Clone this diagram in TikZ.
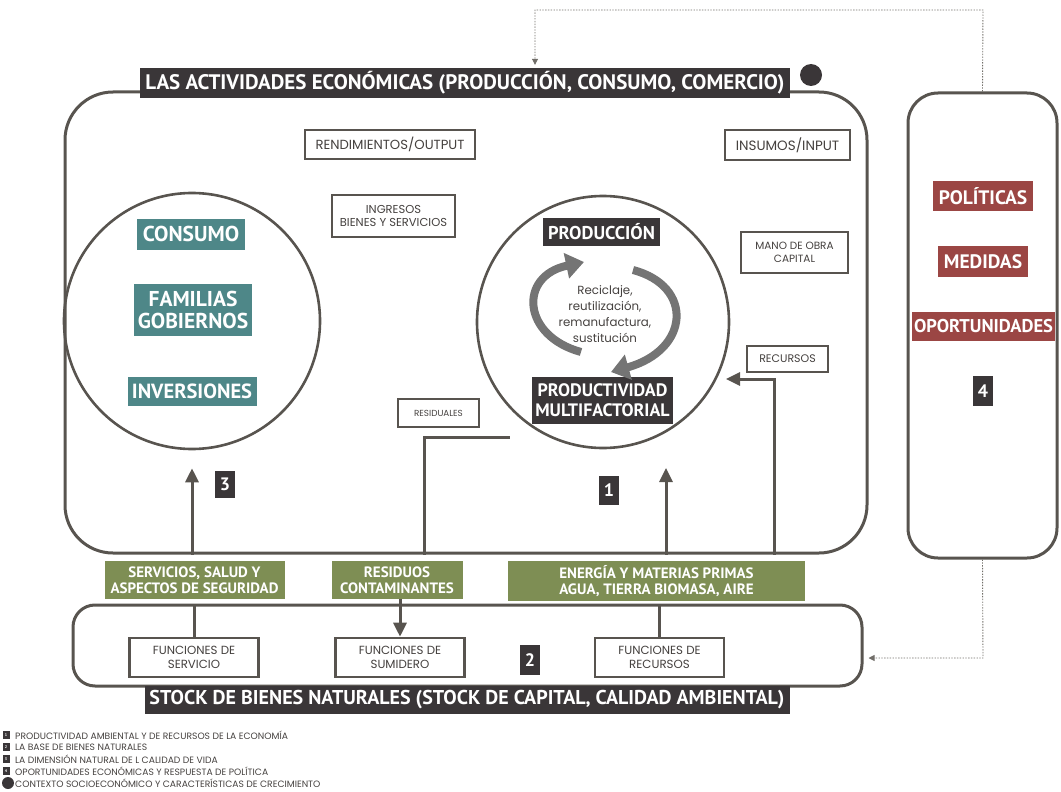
\documentclass[tikz,border=0pt]{standalone}
\usepackage{fontspec}
\setmainfont{PT Sans}
\newfontfamily\popp{Poppins}
\usetikzlibrary{arrows.meta}
\definecolor{darkbar}{HTML}{3A3638}
\definecolor{tealc}{HTML}{4E8788}
\definecolor{greenc}{HTML}{7E8E54}
\definecolor{redc}{HTML}{9B4644}
\definecolor{linec}{HTML}{58544F}
\definecolor{recyc}{HTML}{747474}
\definecolor{txtc}{HTML}{45413F}
\begin{document}
\begin{tikzpicture}[x=1pt,y=-1pt,
  frame/.style={draw=linec, line width=3pt, inner sep=0pt},
  wbox/.style={draw=linec, line width=2.6pt, fill=white, text=txtc, align=center, inner sep=0pt, font=\popp\fontsize{11.5}{13.5}\selectfont},
  tealbox/.style={fill=tealc, text=white, align=center, inner sep=0pt, font=\bfseries\fontsize{21.5}{22}\selectfont},
  darkbox/.style={fill=darkbar, text=white, align=center, inner sep=0pt, font=\bfseries\fontsize{18.5}{19}\selectfont},
  redbox/.style={fill=redc, text=white, align=center, inner sep=0pt, font=\bfseries\fontsize{19.5}{20}\selectfont},
  greenbox/.style={fill=greenc, text=white, align=center, inner sep=0pt, font=\bfseries\fontsize{15}{16}\selectfont},
  numbox/.style={fill=darkbar, text=white, inner sep=0pt, minimum width=20pt, minimum height=29pt, font=\bfseries\fontsize{18}{19}\selectfont},
  titlebar/.style={fill=darkbar, text=white, inner sep=0pt, font=\bfseries\fontsize{21}{22}\selectfont},
  ln/.style={draw=linec, line width=3pt},
  arr/.style={draw=linec, line width=3pt, -{Triangle[width=13pt,length=14pt]}},
  dotln/.style={draw=linec!85, line width=0.9pt, dash pattern=on 1.4pt off 1.4pt, -{Triangle[width=6pt,length=6pt]}},
  recarr/.style={draw=recyc, line width=8pt, -{Triangle[width=25pt,length=18pt]}},
  legsq/.style={fill=darkbar, text=white, inner sep=0pt, minimum width=7pt, minimum height=8pt, font=\bfseries\fontsize{4}{4}\selectfont},
  legtxt/.style={anchor=west, text=txtc, inner sep=0pt, font=\popp\fontsize{9.2}{10}\selectfont}
]
\useasboundingbox (0,0) rectangle (1061,792);

% main frames
\node[frame, rounded corners=48pt, minimum width=802pt, minimum height=461pt] (main) at (466,322.5) {};
\node[frame, rounded corners=30pt, minimum width=149pt, minimum height=465pt] (pol) at (982.5,325.5) {};
\node[frame, rounded corners=22pt, minimum width=789pt, minimum height=81pt] (stock) at (467.5,645.5) {};

% titles
\node[titlebar, minimum width=650pt, minimum height=30pt] (title) at (465,83) {LAS ACTIVIDADES ECONÓMICAS (PRODUCCIÓN, CONSUMO, COMERCIO)};
\node[circle, fill=darkbar, minimum size=22pt, inner sep=0pt] (ctx) at (811,75) {};
\node[titlebar, minimum width=645pt, minimum height=28pt, font=\bfseries\fontsize{20}{21}\selectfont] (stitle) at (467,700) {STOCK DE BIENES NATURALES (STOCK DE CAPITAL, CALIDAD AMBIENTAL)};

% circles
\node[circle, draw=linec, line width=2.6pt, minimum size=256pt, inner sep=0pt] (lcirc) at (192,321) {};
\node[circle, draw=linec, line width=2.6pt, minimum size=252pt, inner sep=0pt] (rcirc) at (603,322) {};

% teal boxes
\node[tealbox, minimum width=108pt, minimum height=31pt] (consumo) at (191,234) {CONSUMO};
\node[tealbox, minimum width=118pt, minimum height=52pt] (familias) at (193,310) {FAMILIAS\\GOBIERNOS};
\node[tealbox, minimum width=129pt, minimum height=29pt, font=\bfseries\fontsize{20.5}{21}\selectfont] (inversiones) at (192,391.5) {INVERSIONES};

% production
\node[darkbox, minimum width=117pt, minimum height=28pt] (produccion) at (601.5,232) {PRODUCCIÓN};
\node[darkbox, minimum width=141pt, minimum height=47pt, font=\bfseries\fontsize{18}{20}\selectfont] (pmf) at (602.5,400.5) {PRODUCTIVIDAD\\MULTIFACTORIAL};
\node[text=txtc, align=center, inner sep=0pt, font=\popp\fontsize{11.8}{16}\selectfont] (recic) at (605,314) {Reciclaje,\\reutilización,\\remanufactura,\\sustitución};
\coordinate (la0) at (581,352);
\coordinate (la1) at (584,262);
\coordinate (ra0) at (633,270);
\coordinate (ra1) at (611,372);
\draw[recarr] (la0) .. controls (522,336) and (518,276) .. (la1);
\draw[recarr] (ra0) .. controls (694,286) and (690,350) .. (ra1);

% white label boxes
\node[wbox, minimum width=170pt, minimum height=29pt, font=\popp\fontsize{13.2}{15}\selectfont] (rend) at (390,144.5) {RENDIMIENTOS/OUTPUT};
\node[wbox, minimum width=123pt, minimum height=42pt, font=\popp\fontsize{11.5}{13.5}\selectfont] (ingresos) at (393.5,216) {INGRESOS\\BIENES Y SERVICIOS};
\node[wbox, minimum width=125pt, minimum height=30pt, font=\popp\fontsize{13.5}{15}\selectfont] (insumos) at (787.5,145) {INSUMOS/INPUT};
\node[wbox, minimum width=107pt, minimum height=41pt, font=\popp\fontsize{10.5}{13.5}\selectfont] (mano) at (794.5,252.5) {MANO DE OBRA\\CAPITAL};
\node[wbox, minimum width=81pt, minimum height=26pt, font=\popp\fontsize{11}{13}\selectfont] (recursos) at (787.5,359) {RECURSOS};
\node[wbox, minimum width=81pt, minimum height=28pt, font=\popp\fontsize{8.8}{12}\selectfont] (residuales) at (438.5,413) {RESIDUALES};

% policy box
\node[redbox, minimum width=100pt, minimum height=30pt] (politicas) at (983,196) {POLÍTICAS};
\node[redbox, minimum width=90pt, minimum height=31pt] (medidas) at (983,261.5) {MEDIDAS};
\node[redbox, minimum width=143pt, minimum height=29pt, font=\bfseries\fontsize{18.5}{19}\selectfont] (oport) at (983.5,326.5) {OPORTUNIDADES};
\node[numbox, minimum height=30pt] (n4) at (983,391) {4};

% number boxes
\node[numbox] (n1) at (609,490.5) {1};
\node[numbox, minimum height=27pt] (n3) at (225,484.5) {3};
\node[numbox, minimum height=30pt] (n2) at (530,660) {2};

% green boxes
\node[greenbox, minimum width=180pt, minimum height=38pt] (gserv) at (194.5,580) {SERVICIOS, SALUD Y\\ASPECTOS DE SEGURIDAD};
\node[greenbox, minimum width=131pt, minimum height=38pt] (gres) at (397,580) {RESIDUOS\\CONTAMINANTES};
\node[greenbox, minimum width=297pt, minimum height=40pt] (gener) at (656.5,581) {ENERGÍA Y MATERIAS PRIMAS\\AGUA, TIERRA BIOMASA, AIRE};

% functions
\node[wbox, minimum width=129pt, minimum height=39pt, font=\popp\fontsize{11.8}{14}\selectfont] (fserv) at (194,657.5) {FUNCIONES DE\\SERVICIO};
\node[wbox, minimum width=129pt, minimum height=39pt, font=\popp\fontsize{11.8}{14}\selectfont] (fsum) at (400,657.5) {FUNCIONES DE\\SUMIDERO};
\node[wbox, minimum width=129pt, minimum height=39pt, font=\popp\fontsize{11.8}{14}\selectfont] (frec) at (659.5,657.5) {FUNCIONES DE\\RECURSOS};

% connectors in main box
\draw[arr, shorten >=18pt] (main.south -| lcirc.south) -- (lcirc.south);
\coordinate (a1top) at (666,468);
\draw[arr] (a1top |- main.south) -- (a1top);
\coordinate (rescorner) at (424,437);
\coordinate (resend) at (510,437);
\draw[ln] (rescorner |- main.south) -- (rescorner) -- (resend);
\coordinate (reccorner) at (774,379);
\coordinate (rectip) at (726,379);
\draw[arr] (reccorner |- main.south) -- (reccorner) -- (rectip);

% connectors in stock box
\draw[ln] (fserv.north) -- (fserv.north |- stock.north);
\draw[arr] (gres.south -| fsum.north) -- (fsum.north);
\draw[ln] (frec.north) -- (frec.north |- stock.north);

% dotted feedback lines
\coordinate (d1) at (983,10);
\coordinate (d2) at (535,10);
\draw[dotln, shorten >=3pt] (pol.north) -- (d1) -- (d2) -- (d2 |- title.north);
\coordinate (d3) at (983,658);
\draw[dotln, shorten >=5pt] (pol.south) -- (d3) -- (stock.east |- d3);

% legend
\node[legsq] (l1) at (6,735) {1};
\node[legsq] (l2) at (6,747) {2};
\node[legsq] (l3) at (6,759) {3};
\node[legsq] (l4) at (6,771) {4};
\node[circle, fill=darkbar, minimum size=12pt, inner sep=0pt] (l5) at (8,783) {};
\node[legtxt] (t1) at (15,735) {PRODUCTIVIDAD AMBIENTAL Y DE RECURSOS DE LA ECONOMÍA};
\node[legtxt] (t2) at (15,747) {LA BASE DE BIENES NATURALES};
\node[legtxt] (t3) at (15,759) {LA DIMENSIÓN NATURAL DE L CALIDAD DE VIDA};
\node[legtxt] (t4) at (15,771) {OPORTUNIDADES ECONÓMICAS Y RESPUESTA DE POLÍTICA};
\node[legtxt] (t5) at (15,783) {CONTEXTO SOCIOECONÓMICO Y CARACTERÍSTICAS DE CRECIMIENTO};
\end{tikzpicture}
\end{document}
